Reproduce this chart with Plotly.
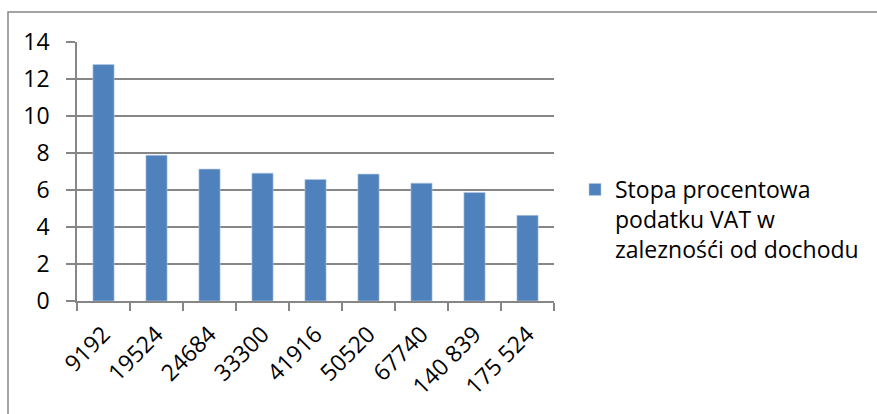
import plotly.graph_objects as go

categories = ["9192", "19524", "24684", "33300", "41916", "50520", "67740", "140 839", "175 524"]
values = [12.78, 7.88, 7.13, 6.91, 6.57, 6.86, 6.37, 5.87, 4.63]
series_name = "Stopa procentowa<br>podatku VAT w<br>zaleznośći od dochodu"
y_ticks = [0, 2, 4, 6, 8, 10, 12, 14]

W, H = 877, 414
L, R, T, B = 77, 554, 42, 301
pw, ph = R - L, B - T

def px_x(x):
    return (x - L) / pw

def px_y(y):
    return (B - y) / ph

font = "Open Sans"
grid = "#868686"
fs = 23

fig = go.Figure()
fig.add_trace(go.Bar(
    x=categories, y=values, name=series_name,
    marker=dict(color="#4F81BD", line=dict(color="#B9CDE5", width=0.6)),
    showlegend=True,
))

fig.update_layout(
    width=W, height=H,
    margin=dict(l=L, r=W - R, t=T, b=H - B, pad=0),
    paper_bgcolor="white", plot_bgcolor="white",
    bargap=0.6,
    font=dict(family=font, size=fs, color="black"),
    showlegend=True,
    legend=dict(
        x=px_x(575), y=px_y(168), xanchor="left", yanchor="top",
        valign="top", font=dict(size=fs, family=font),
        bgcolor="rgba(0,0,0,0)", itemclick=False,
    ),
    xaxis=dict(
        type="category", tickangle=-45, showgrid=False,
        showline=True, linecolor=grid, linewidth=1.5,
        ticks="outside", tickson="boundaries", ticklen=8, tickcolor=grid, tickwidth=1.5,
        tickfont=dict(size=fs, family=font), ticklabelstandoff=9,
        range=[-0.5, len(categories) - 0.5],
    ),
    yaxis=dict(
        range=[0, 14], tickvals=y_ticks, showgrid=True, gridcolor=grid, gridwidth=1.5,
        showline=True, linecolor=grid, linewidth=1.5,
        ticks="outside", ticklen=9, tickcolor=grid, tickwidth=1.5,
        tickfont=dict(size=fs, family=font), ticklabelstandoff=12,
        zeroline=False,
    ),
    shapes=[dict(
        type="rect", xref="paper", yref="paper",
        x0=px_x(8), x1=px_x(900), y0=px_y(12), y1=px_y(440),
        line=dict(color=grid, width=1.5), fillcolor="rgba(0,0,0,0)", layer="below",
    )],
)

fig.write_html("out.html")
